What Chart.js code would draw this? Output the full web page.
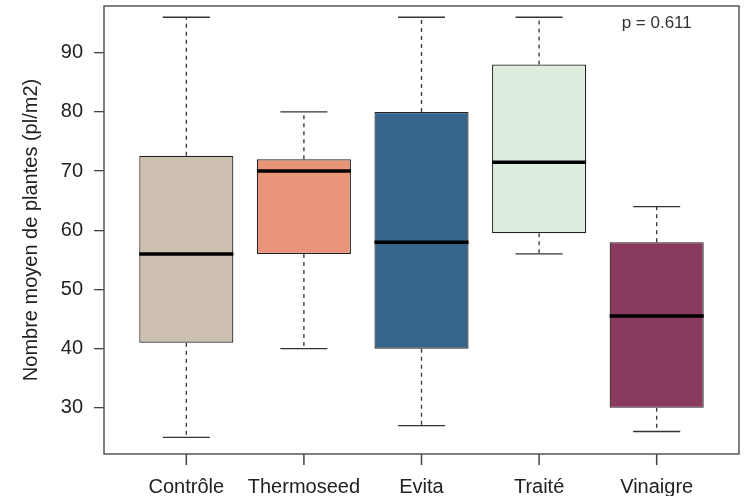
<!DOCTYPE html>
<html>
<head>
<meta charset="utf-8">
<script src="https://cdn.jsdelivr.net/npm/chart.js@4"></script>
<style>
  html, body { margin: 0; padding: 0; background: #fff; }
  #wrap { width: 745px; height: 496px; }
</style>
</head>
<body>
<div id="wrap"><canvas id="boxChart" width="745" height="496"></canvas></div>
<script>
// valeurs
const categories = ['Contrôle', 'Thermoseed', 'Evita', 'Traité', 'Vinaigre'];
const whiskerLow = [25, 40, 27, 56, 26];
const q1 = [41, 56, 40, 59.5, 30];
const median = [56, 70, 58, 71.5, 45.5];
const q3 = [72.6, 72, 80, 88, 58];
const whiskerHigh = [96, 80, 96, 96, 64];
const colors = ['#CDC0B1', '#E9957A', '#35648C', '#DFEDDF', '#8A3A5E'];
const yTicks = [30, 40, 50, 60, 70, 80, 90];
const pValue = 'p = 0.611';

document.addEventListener('DOMContentLoaded', function () {
    const canvas = document.getElementById('boxChart');
    const ctx = canvas.getContext('2d');

    // moustaches, médianes, graduations x et cadre
    const boxExtras = {
        id: 'boxExtras',
        afterDraw(chart) {
            const x = chart.scales.x;
            const y = chart.scales.y;
            const c = chart.ctx;
            const area = chart.chartArea;
            const halfBox = (x.getPixelForValue(1.4) - x.getPixelForValue(1));
            const halfCap = (x.getPixelForValue(1.2) - x.getPixelForValue(1));
            c.save();
            categories.forEach(function (cat, i) {
                const cx = x.getPixelForValue(i + 1);
                // moustaches en pointillés
                c.strokeStyle = '#333';
                c.lineWidth = 1.3;
                c.setLineDash([4, 4]);
                c.beginPath();
                c.moveTo(cx, y.getPixelForValue(q3[i]));
                c.lineTo(cx, y.getPixelForValue(whiskerHigh[i]));
                c.moveTo(cx, y.getPixelForValue(q1[i]));
                c.lineTo(cx, y.getPixelForValue(whiskerLow[i]));
                c.stroke();
                // extrémités
                c.setLineDash([]);
                c.beginPath();
                c.moveTo(cx - halfCap, y.getPixelForValue(whiskerHigh[i]));
                c.lineTo(cx + halfCap, y.getPixelForValue(whiskerHigh[i]));
                c.moveTo(cx - halfCap, y.getPixelForValue(whiskerLow[i]));
                c.lineTo(cx + halfCap, y.getPixelForValue(whiskerLow[i]));
                c.stroke();
                // médiane
                c.strokeStyle = '#000';
                c.lineWidth = 3.5;
                c.beginPath();
                c.moveTo(cx - halfBox, y.getPixelForValue(median[i]));
                c.lineTo(cx + halfBox, y.getPixelForValue(median[i]));
                c.stroke();
            });
            // graduations x
            c.setLineDash([]);
            c.strokeStyle = '#444';
            c.lineWidth = 1.5;
            c.beginPath();
            x.ticks.forEach(function (t) {
                const px = x.getPixelForValue(t.value);
                c.moveTo(px, area.bottom);
                c.lineTo(px, area.bottom + 11);
            });
            c.stroke();
            // cadre
            c.strokeStyle = '#555';
            c.lineWidth = 1.5;
            c.strokeRect(area.left, area.top, area.right - area.left, area.bottom - area.top);
            // p-value
            c.fillStyle = '#333';
            c.font = '17px "Liberation Sans", Arial, sans-serif';
            c.textAlign = 'center';
            c.textBaseline = 'middle';
            c.fillText(pValue, x.getPixelForValue(5), area.top + 17);
            c.restore();
        }
    };

    new Chart(ctx, {
        type: 'bar',
        data: {
            datasets: [{
                label: 'Nombre moyen',
                data: categories.map(function (cat, i) {
                    return { x: i + 1, y: [q1[i], q3[i]] };
                }),
                backgroundColor: colors,
                borderColor: '#222',
                borderWidth: 1.2,
                borderSkipped: false,
                categoryPercentage: 1,
                barPercentage: 0.8
            }]
        },
        options: {
            responsive: false,
            animation: false,
            layout: { padding: { top: 6, right: 6, left: 0, bottom: 0 } },
            plugins: {
                legend: { display: false },
                tooltip: { enabled: false }
            },
            scales: {
                x: {
                    type: 'linear',
                    offset: false,
                    min: 0.3,
                    max: 5.7,
                    afterBuildTicks: function (scale) {
                        scale.ticks = categories.map(function (c, i) { return { value: i + 1 }; });
                    },
                    afterFit: function (scale) {
                        scale.height = 42;
                        scale.paddingLeft = 0;
                        scale.paddingRight = 0;
                    },
                    grid: { display: false, tickLength: 10 },
                    border: { display: false },
                    ticks: {
                        padding: 11,
                        color: '#222',
                        font: { family: '"Liberation Sans", Arial, sans-serif', size: 20 },
                        callback: function (value) {
                            return categories[Math.round(value) - 1];
                        },
                        maxRotation: 0,
                        autoSkip: false
                    }
                },
                y: {
                    min: 22.2,
                    max: 97.9,
                    afterBuildTicks: function (scale) {
                        scale.ticks = yTicks.map(function (v) { return { value: v }; });
                    },
                    afterFit: function (scale) {
                        scale.width = 104;
                        scale.paddingTop = 0;
                        scale.paddingBottom = 0;
                    },
                    grid: { drawOnChartArea: false, drawTicks: true, tickLength: 10, color: '#444', lineWidth: 1.3 },
                    border: { display: false },
                    ticks: {
                        padding: 11,
                        color: '#222',
                        font: { family: '"Liberation Sans", Arial, sans-serif', size: 20 }
                    },
                    title: {
                        display: true,
                        text: 'Nombre moyen de plantes (pl/m2)',
                        color: '#222',
                        font: { family: '"Liberation Sans", Arial, sans-serif', size: 20 },
                        padding: { top: 19, bottom: 0 }
                    }
                }
            }
        },
        plugins: [boxExtras]
    });
});
</script>
</body>
</html>
